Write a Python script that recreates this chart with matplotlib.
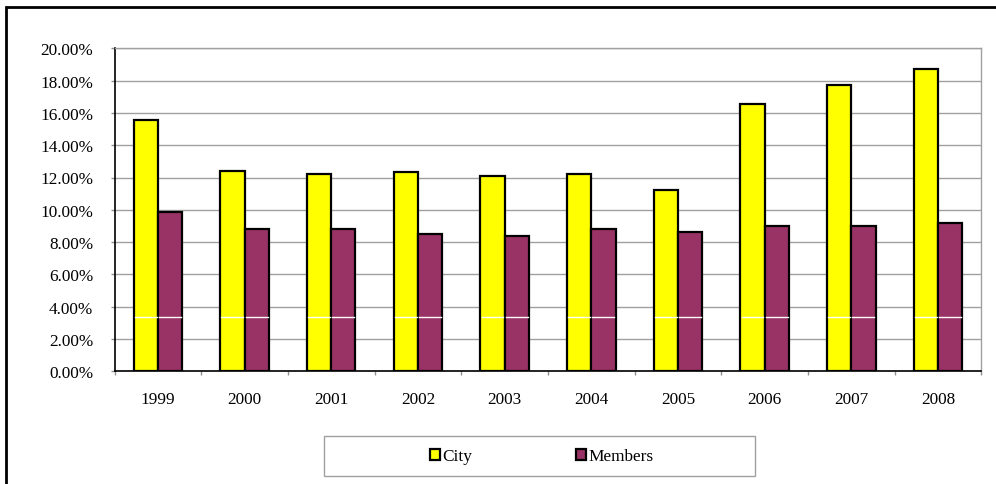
import matplotlib
matplotlib.use("Agg")
import matplotlib.pyplot as plt
from matplotlib.patches import Rectangle
from matplotlib.ticker import FixedLocator, PercentFormatter
import numpy as np

years = ["1999", "2000", "2001", "2002", "2003", "2004", "2005", "2006", "2007", "2008"]
city = [15.58, 12.40, 12.22, 12.34, 12.09, 12.20, 11.23, 16.53, 17.73, 18.74]
members = [9.84, 8.81, 8.79, 8.50, 8.38, 8.79, 8.61, 8.98, 9.00, 9.20]
series_names = ["City", "Members"]

plt.rcParams['font.family'] = ['Liberation Serif', 'DejaVu Serif']
FS = 12.4

fig = plt.figure(figsize=(9.96, 4.85), dpi=100)
ax = fig.add_axes([114.5/996, 1-372.3/485, (981.3-114.5)/996, (372.3-49.3)/485])

x = np.arange(len(years))
w = 0.28
b1 = ax.bar(x - w/2, city, width=w, color="#FFFF00", edgecolor="black", linewidth=1.6, zorder=3, label=series_names[0])
b2 = ax.bar(x + w/2, members, width=w, color="#993366", edgecolor="black", linewidth=1.6, zorder=3, label=series_names[1])

# thin white artifact line across bars
for bars in (b1, b2):
    for r in bars:
        ax.plot([r.get_x() + 0.014, r.get_x() + r.get_width() - 0.014], [3.34, 3.34], color="white", lw=1.0, zorder=4)

ax.set_xlim(-0.5, len(years) - 0.5)
ax.set_ylim(0, 20)
ax.set_yticks(np.arange(0, 20.01, 2))
ax.yaxis.set_major_formatter(PercentFormatter(decimals=2))
ax.grid(axis="y", color="#a0a0a0", linewidth=1.0, zorder=0)
ax.set_axisbelow(True)

ax.xaxis.set_major_locator(FixedLocator(np.arange(-0.5, len(years), 1)))
ax.xaxis.set_minor_locator(FixedLocator(x))
ax.set_xticklabels([""] * len(ax.get_xticks()))
ax.set_xticklabels(years, minor=True)
ax.tick_params(axis="x", which="major", length=3.1, color="#909090", width=1.0, direction="out")
ax.tick_params(axis="x", which="minor", length=0, pad=14.5, labelsize=FS)
ax.tick_params(axis="y", length=3.1, color="#909090", width=1.0, pad=12.2, labelsize=FS)

for s in ("left", "bottom"):
    ax.spines[s].set_color("black")
    ax.spines[s].set_linewidth(1.2)
for s in ("top", "right"):
    ax.spines[s].set_color("#a0a0a0")
    ax.spines[s].set_linewidth(1.0)

# outer frame (extends past the image on right and bottom)
fig.patches.append(Rectangle((5.7/996, -0.1), 1.2, 1.1 - 8.3/485, transform=fig.transFigure,
                             fill=False, edgecolor="black", linewidth=2.0, zorder=10))

# legend box
lx0, lx1, ly0, ly1 = 324.3, 755, 437.3, 477.3
fig.patches.append(Rectangle((lx0/996, 1-ly1/485), (lx1-lx0)/996, (ly1-ly0)/485, transform=fig.transFigure,
                             fill=True, facecolor="white", edgecolor="#a0a0a0", linewidth=1.0, zorder=5))
leg = fig.legend(handles=[b1, b2], labels=series_names, loc="center", ncol=2,
                 bbox_to_anchor=((lx0+lx1)/2/996 + 2/996, 1-(ly0+ly1)/2/485), frameon=False,
                 fontsize=FS, handlelength=0.58, handleheight=0.58, handletextpad=0.15,
                 columnspacing=6.0)
leg.set_zorder(6)

fig.savefig("out.png", dpi=100)
